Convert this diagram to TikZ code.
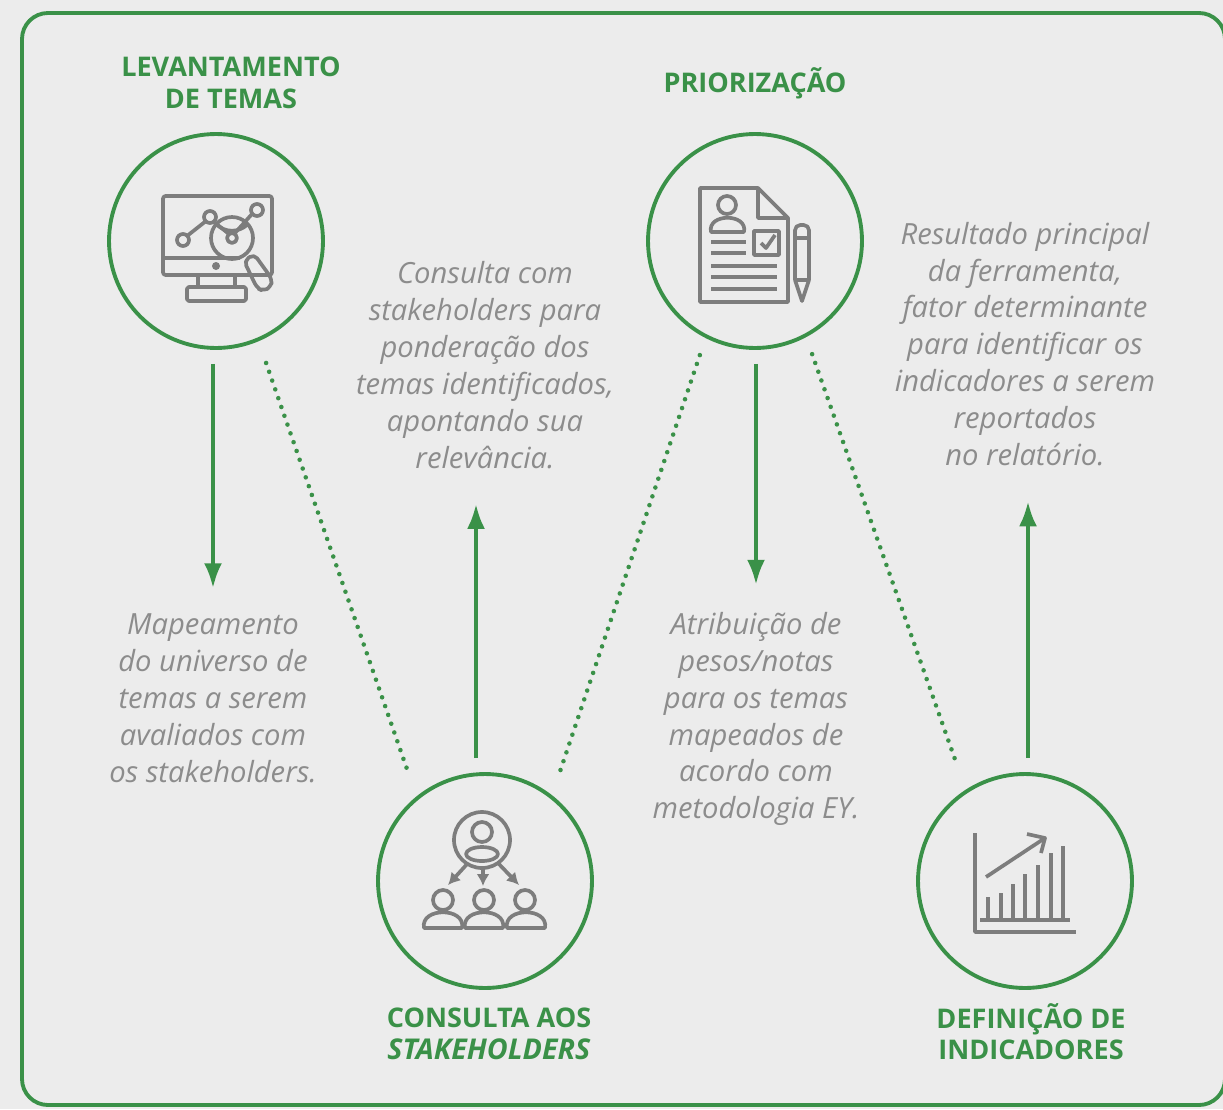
\documentclass[tikz,border=0pt]{standalone}
\usepackage{fontspec}
\setmainfont{Open Sans}
\usetikzlibrary{positioning,arrows.meta}
\definecolor{mygreen}{RGB}{58,145,72}
\definecolor{mygray}{RGB}{236,236,236}
\definecolor{mytext}{RGB}{140,140,140}
\definecolor{myicon}{RGB}{125,125,125}
\begin{document}
\begin{tikzpicture}[x=0.02cm,y=-0.02cm,inner sep=0pt]
\tikzstyle{main}=[circle, minimum size = 4.28cm, line width=2.2pt, draw=mygreen]
\tikzstyle{connect}=[-{Latex[length=0.5cm,width=0.36cm]}, line width=2.4pt, draw=mygreen, shorten <=0.28cm]
\tikzstyle{link}=[line width=2.6pt, draw=mygreen, line cap=round, dash pattern=on 0pt off 5.3pt]
\tikzstyle{box}=[rectangle, line width=2.2pt, draw=mygreen, rounded corners=0.52cm]
\tikzstyle{head}=[align=center, text=mygreen, font=\fontsize{15.4}{18}\selectfont\bfseries]
\tikzstyle{desc}=[align=center, text=mytext, font=\fontsize{16.6}{21}\selectfont\itshape]
\tikzstyle{icon}=[line width=2.1pt, draw=myicon, line join=round]
\tikzstyle{point}=[icon, -{Latex[length=0.24cm,width=0.26cm]}]
\fill[mygray] (0,0) rectangle (1223,1109);
\useasboundingbox (0,0) rectangle (1223,1109);
\draw[box] (22,13) rectangle (1225,1105);
\node[main] (lev) at (216,241) {};
\node[main] (pri) at (755,241) {};
\node[main] (con) at (485,881) {};
\node[main] (ind) at (1025,881) {};
\node[head] (levt) [above=0.46cm of lev,xshift=0.3cm] {LEVANTAMENTO\\DE TEMAS};
\node[head] (prit) [above=0.66cm of pri] {PRIORIZAÇÃO};
\node[head] (cont) [below=0.36cm of con,xshift=0.08cm] {CONSULTA AOS\\{\fontsize{16.3}{18}\selectfont\textit{STAKEHOLDERS}}};
\node[head] (indt) [below=0.26cm of ind,xshift=0.12cm] {DEFINIÇÃO DE\\INDICADORES};
\node[desc] (levd) at (213,698) {Mapeamento\\do universo de\\temas a serem\\avaliados com\\os stakeholders.};
\node[desc] (prid) at (756,719) {Atribuição de\\pesos/notas\\para os temas\\mapeados de\\acordo com\\metodologia EY.};
\node[desc] (cond) at (485,365) {Consulta com\\stakeholders para\\ponderação dos\\temas identificados,\\apontando sua\\relevância.};
\node[desc] (indd) at (1025,344) {Resultado principal\\da ferramenta,\\fator determinante\\para identificar os\\indicadores a serem\\reportados\\no relatório.};
\draw[connect,shorten >=0.5cm] (lev.south -| levd.north) -- (levd.north);
\draw[connect,shorten >=0.54cm] (pri.south -| prid.north) -- (prid.north);
\draw[connect,shorten >=0.7cm] ([xshift=-0.18cm]con.north) -- ([xshift=-0.18cm]con.north |- cond.south);
\draw[connect,shorten >=0.7cm] ([xshift=0.06cm]ind.north) -- ([xshift=0.06cm]ind.north |- indd.south);
\draw[link,shorten <=0.46cm,shorten >=0.54cm] (lev.-67.5) -- (con.129.3);
\draw[link,shorten <=0.36cm,shorten >=0.5cm] (pri.-117.5) -- (con.52.6);
\draw[link,shorten <=0.36cm,shorten >=0.5cm] (pri.-62.5) -- (ind.123.2);
\draw[icon,rounded corners=1.5pt] (163,196) rectangle (272,275);
\draw[icon] (163,258) -- (240,258);
\draw[icon] (198,275) -- (198,287) (235,275) -- (235,287);
\draw[icon,rounded corners=1pt] (187,287) rectangle (246,301);
\draw[icon] (183,240) circle (6) (210,217) circle (6) (232,238) circle (5) (257,210) circle (6);
\draw[icon] (187,236) -- (206,221) (214,222) -- (229,234) (235,233) -- (252,214);
\draw[icon] (232,238) circle (21);
\draw[icon] (216,224) .. controls (225,233) and (239,233) .. (248,224);
\draw[icon,rounded corners=3pt] (244,261) -- (254,254) -- (272,279) -- (271,287) -- (263,291) -- (257,288) -- cycle;
\fill[myicon] (216,266) circle (4);
\draw[icon] (700,188) -- (758,188) -- (788,218) -- (788,302) -- (700,302) -- cycle;
\draw[icon] (758,188) -- (758,218) -- (788,218);
\draw[icon] (727,205) circle (9);
\draw[icon] (711,232) .. controls (707,213) and (748,213) .. (744,232) -- cycle;
\draw[icon] (754,231) rectangle (779,255);
\draw[icon] (761,243) -- (766,248) -- (775,235);
\draw[icon] (711,242) -- (746,242) (711,253) -- (746,253);
\draw[icon] (711,266) -- (777,266) (711,277) -- (777,277) (711,289) -- (777,289);
\draw[icon,rounded corners=3pt] (795,280) -- (795,225) -- (809,225) -- (809,280);
\draw[icon] (795,280) -- (802,301) -- (809,280) -- cycle;
\draw[icon] (795,238) -- (809,238);
\draw[icon] (482,840) circle (28);
\draw[icon] (482,832) circle (10);
\draw[icon] (482,854) ellipse (16 and 7);
\draw[point] (468,863) -- (448,885);
\draw[point] (483,868) -- (483,886);
\draw[point] (498,863) -- (519,885);
\draw[icon] (443,900) circle (10) (484,900) circle (10) (525,900) circle (10);
\draw[icon] (424,928) .. controls (420,907) and (466,907) .. (462,928) -- cycle;
\draw[icon] (465,928) .. controls (461,907) and (507,907) .. (503,928) -- cycle;
\draw[icon] (507,928) .. controls (503,907) and (549,907) .. (545,928) -- cycle;
\draw[icon] (975,833) -- (975,932) -- (1076,932);
\draw[icon] (980,920) -- (1070,920);
\foreach \xx/\yy in {988/897,1001/893,1013/884,1025/874,1038/865,1051/853,1063/846}
  \draw[icon] (\xx,920) -- (\xx,\yy);
\draw[icon] (986,877) -- (1045,838);
\draw[icon] (1027,834) -- (1045,838) -- (1041,853);
\end{tikzpicture}
\end{document}
